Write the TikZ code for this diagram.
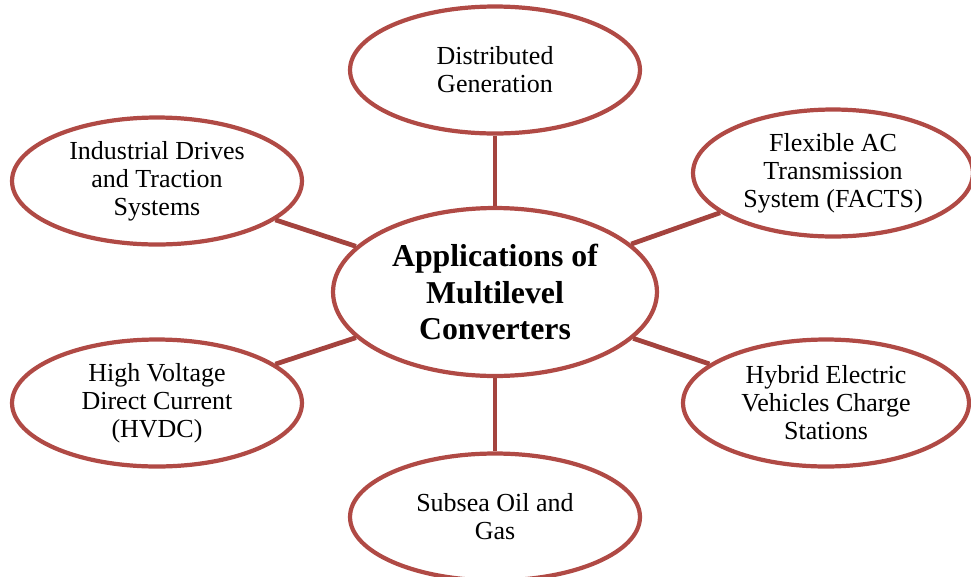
\documentclass[tikz,border=0pt]{standalone}
\usepackage{fontspec}
\setmainfont{Liberation Serif}
\usetikzlibrary{shapes.geometric,positioning}
\definecolor{ringred}{HTML}{B04A45}
\definecolor{linkred}{HTML}{A4433E}

\begin{document}
\begin{tikzpicture}[x=0.02cm,y=-0.02cm,
  app/.style={ellipse,draw=ringred,line width=2.4pt,inner sep=0pt,align=center,
    minimum width=5.8cm,minimum height=2.54cm,font=\fontsize{14.8pt}{15.9pt}\selectfont,
    execute at begin node=\rule{0pt}{13.8pt}},
  hub/.style={app,minimum width=6.48cm,minimum height=3.36cm,
    font=\bfseries\fontsize{18.1pt}{21pt}\selectfont,
    execute at begin node=\rule{0pt}{15pt}},
  link/.style={draw=linkred,line width=2.7pt}]
\useasboundingbox (0,0) rectangle (971,576);

% centre and the six application fields
\node[hub] (mlc) at (495,292) {Applications of\\Multilevel\\Converters};
\node[app] (dg) at (495,70) {Distributed\\Generation};
\node[app] (drv) at (157,181) {Industrial Drives\\and Traction\\Systems};
\node[app,minimum width=5.6cm] (facts) at (833,173) {Flexible AC\\Transmission\\System (FACTS)};
\node[app] (hvdc) at (157,403) {High Voltage\\Direct Current\\(HVDC)};
\node[app,minimum width=5.72cm] (hev) at (826,403) {Hybrid Electric\\Vehicles Charge\\Stations};
\node[app] (oil) at (495,517) {Subsea Oil and\\Gas};

% spokes
\draw[link] (mlc) -- (dg);  \draw[link] (mlc) -- (oil);
\draw[link] (mlc) -- (drv); \draw[link] (mlc) -- (facts);
\draw[link] (mlc) -- (hvdc); \draw[link] (mlc) -- (hev);
\end{tikzpicture}
\end{document}
